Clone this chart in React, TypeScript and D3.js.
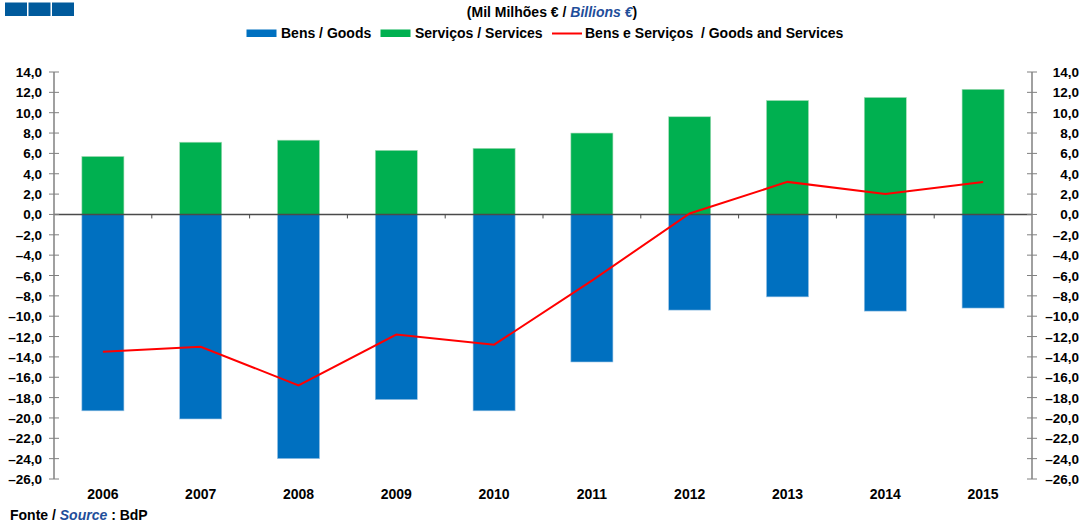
import React from "react";
import * as d3 from "d3";

const years = ["2006", "2007", "2008", "2009", "2010", "2011", "2012", "2013", "2014", "2015"];
const goods = [-19.3, -20.1, -24.0, -18.2, -19.3, -14.5, -9.4, -8.1, -9.5, -9.2];
const services = [5.7, 7.1, 7.3, 6.3, 6.5, 8.0, 9.6, 11.2, 11.5, 12.3];
const total = [-13.5, -13.0, -16.8, -11.8, -12.8, -6.5, 0.1, 3.2, 2.0, 3.2];
const yTicks = d3.range(-26, 15, 2);

const W = 1084, H = 524;
const left = 54, right = 1032, top = 72, bottom = 479;
const font = "'Liberation Sans', Arial, sans-serif";

export default function App() {
  const x = d3.scaleBand<string>().domain(years).range([left, right]).paddingInner(0.57).paddingOuter(0.285);
  const y = d3.scaleLinear().domain([-26, 14]).range([bottom, top]);
  const y0 = y(0);
  const bw = x.bandwidth();
  const cx = (d: string) => (x(d) as number) + bw / 2;
  const line = d3.line<number>().x((_, i) => cx(years[i])).y((v) => y(v));
  const fmt = (v: number) => (v < 0 ? "–" : "") + Math.abs(v).toFixed(1).replace(".", ",");
  const boundaries = d3.range(1, years.length).map((i) => left + i * (right - left) / years.length);

  return (
    <svg width={W} height={H} style={{ position: "absolute", left: 0, top: 0, background: "#fff" }} fontFamily={font}>
      {[5, 28.5, 52].map((bx) => (
        <rect key={bx} x={bx} y={2.5} width={22} height={13.5} fill="#005a9c" />
      ))}
      <text x={552} y={17} textAnchor="middle" fontSize={14} fontWeight="bold" fill="#000">
        (Mil Milhões € / <tspan fill="#1f4e9a" fontStyle="italic">Billions €</tspan>)
      </text>
      <g fontSize={14} fontWeight="bold">
        <rect x={246.5} y={29.5} width={30} height={7.5} fill="#0070c0" />
        <text x={281} y={38}>Bens / Goods</text>
        <rect x={380.5} y={29.5} width={30} height={7.5} fill="#00b050" />
        <text x={415} y={38}>Serviços / Services</text>
        <line x1={552} x2={582} y1={33.5} y2={33.5} stroke="#ff0000" strokeWidth={2} />
        <text x={585} y={38} xmlSpace="preserve">Bens e Serviços  / Goods and Services</text>
      </g>
      {years.map((d, i) => (
        <g key={d}>
          <rect x={x(d)} y={y(services[i])} width={bw} height={y0 - y(services[i])} fill="#00b050" stroke="#a8dcb8" strokeWidth={0.6} />
          <rect x={x(d)} y={y0} width={bw} height={y(goods[i]) - y0} fill="#0070c0" stroke="#9cc4e4" strokeWidth={0.6} />
        </g>
      ))}
      <line x1={left} x2={right} y1={y0} y2={y0} stroke="#4a4a4a" strokeWidth={1.5} />
      {boundaries.map((bx, i) => (
        <line key={i} x1={bx} x2={bx} y1={y0} y2={y0 + 4} stroke="#4a4a4a" strokeWidth={1} />
      ))}
      <path d={line(total) as string} fill="none" stroke="#ff0000" strokeWidth={2} />
      <line x1={left} x2={left} y1={top} y2={bottom} stroke="#808080" strokeWidth={1.5} />
      <line x1={right} x2={right} y1={top} y2={bottom} stroke="#808080" strokeWidth={1.5} />
      <g fontSize={13.5} fontWeight="bold">
        {yTicks.map((t) => (
          <g key={t}>
            <line x1={left - 5} x2={left + 5} y1={y(t)} y2={y(t)} stroke="#808080" strokeWidth={1} />
            <line x1={right - 5} x2={right + 5} y1={y(t)} y2={y(t)} stroke="#808080" strokeWidth={1} />
            <text x={42} y={y(t) + 5} textAnchor="end">{fmt(t)}</text>
            <text x={1079} y={y(t) + 5} textAnchor="end">{fmt(t)}</text>
          </g>
        ))}
      </g>
      <g fontSize={14} fontWeight="bold">
        {years.map((d) => (
          <text key={d} x={cx(d)} y={499} textAnchor="middle">{d}</text>
        ))}
      </g>
      <text x={10} y={520} fontSize={14} fontWeight="bold" xmlSpace="preserve">
        Fonte / <tspan fill="#1f4e9a" fontStyle="italic">Source</tspan> : BdP
      </text>
    </svg>
  );
}
